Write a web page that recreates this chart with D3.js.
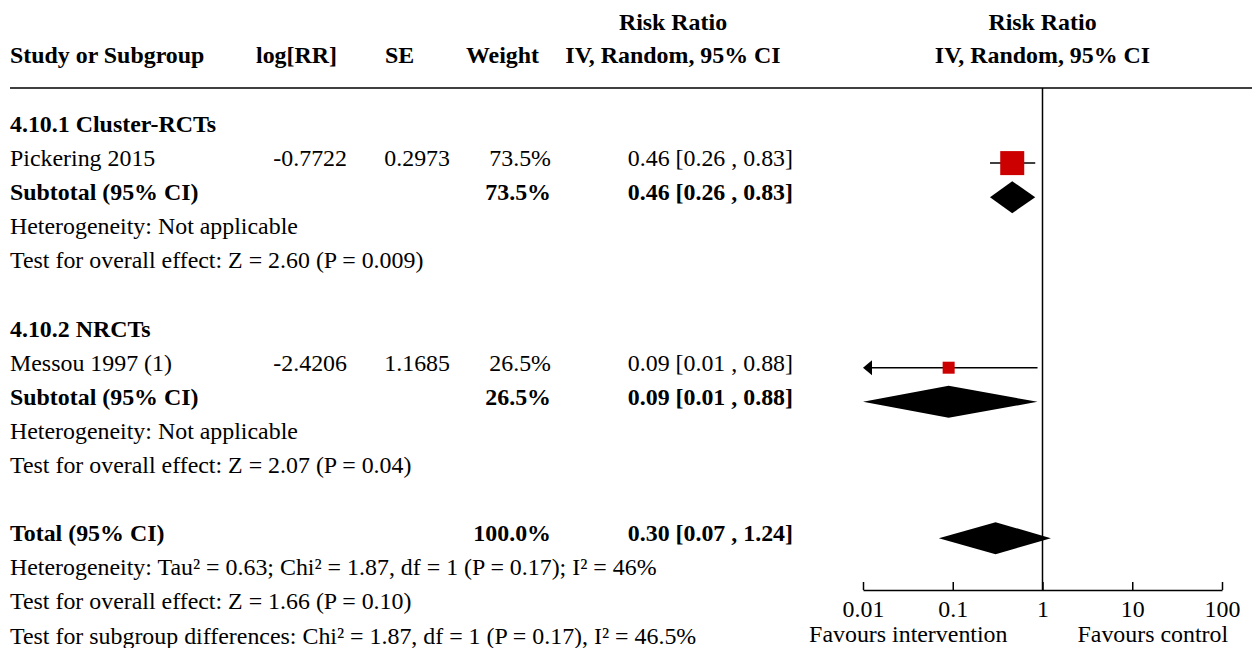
<!DOCTYPE html>
<html>
<head>
<meta charset="utf-8">
<script src="https://cdn.jsdelivr.net/npm/d3@7"></script>
<style>
  body { margin: 0; background: #fff; }
  text { font-family: "Liberation Serif", "DejaVu Serif", serif; font-size: 23.9px; fill: #000; }
  .b { font-weight: bold; }
</style>
</head>
<body>
<script>
var width = 1252, height = 648;

// study data
var studies = ["Pickering 2015", "Messou 1997 (1)"];
var logRR = ["-0.7722", "-2.4206"];
var se = ["0.2973", "1.1685"];
var weights = [73.5, 26.5];
var rr = [0.46, 0.09];
var rrLo = [0.26, 0.01];
var rrHi = [0.83, 0.88];

// subgroups
var groups = ["4.10.1 Cluster-RCTs", "4.10.2 NRCTs"];
var subRR = [0.46, 0.09];
var subLo = [0.26, 0.01];
var subHi = [0.83, 0.88];
var subHet = ["Heterogeneity: Not applicable", "Heterogeneity: Not applicable"];
var subTest = ["Test for overall effect: Z = 2.60 (P = 0.009)", "Test for overall effect: Z = 2.07 (P = 0.04)"];

// overall
var totalRR = 0.30, totalLo = 0.07, totalHi = 1.24;
var totalLines = [
  "Heterogeneity: Tau\u00b2 = 0.63; Chi\u00b2 = 1.87, df = 1 (P = 0.17); I\u00b2 = 46%",
  "Test for overall effect: Z = 1.66 (P = 0.10)",
  "Test for subgroup differences: Chi\u00b2 = 1.87, df = 1 (P = 0.17), I\u00b2 = 46.5%"
];

var ticks = [0.01, 0.1, 1, 10, 100];
var tickLabels = ["0.01", "0.1", "1", "10", "100"];

var svg = d3.select("body").append("svg")
    .attr("width", width)
    .attr("height", height);

var x = d3.scaleLog().domain([0.01, 100]).range([863, 1222]);
var size = d3.scaleSqrt().domain([0, 100]).range([0, 28]);

var rowH = 34.1, row0 = 132;
function rowY(i) { return row0 + i * rowH; }
var red = "#cc0000";

function fmt(v) { return v.toFixed(2); }
function ciText(m, l, h) { return fmt(m) + " [" + fmt(l) + " , " + fmt(h) + "]"; }

function txt(s, xx, yy, anchor, bold) {
  svg.append("text")
    .attr("x", xx).attr("y", yy)
    .attr("text-anchor", anchor || "start")
    .attr("class", bold ? "b" : null)
    .text(s);
}

// headers
txt("Risk Ratio", 673, 30, "middle", true);
txt("Risk Ratio", x(1), 30, "middle", true);
txt("Study or Subgroup", 10, 63, "start", true);
txt("log[RR]", 256, 63, "start", true);
txt("SE", 385, 63, "start", true);
txt("Weight", 466, 63, "start", true);
txt("IV, Random, 95% CI", 673, 63, "middle", true);
txt("IV, Random, 95% CI", x(1), 63, "middle", true);

svg.append("line")
  .attr("x1", 10).attr("x2", width)
  .attr("y1", 88).attr("y2", 88)
  .attr("stroke", "#000").attr("stroke-width", 1.5);

function diamond(m, l, h, yy) {
  var hh = 16;
  svg.append("path")
    .attr("d", "M" + x(l) + "," + yy + "L" + x(m) + "," + (yy - hh) +
               "L" + x(h) + "," + yy + "L" + x(m) + "," + (yy + hh) + "Z")
    .attr("fill", "#000");
}

// study rows
var r = 0;
groups.forEach(function(g, i) {
  txt(g, 10, rowY(r), "start", true);
  r++;
  var yy = rowY(r);
  var my = yy - 3;
  txt(studies[i], 10, yy);
  txt(logRR[i], 347, yy, "end");
  txt(se[i], 450, yy, "end");
  txt(weights[i].toFixed(1) + "%", 551, yy, "end");
  txt(ciText(rr[i], rrLo[i], rrHi[i]), 793, yy, "end");

  // CI line, clipped to axis range with arrow
  var lo = Math.max(rrLo[i], x.domain()[0]);
  var hi = Math.min(rrHi[i], x.domain()[1]);
  var arrowL = rrLo[i] <= x.domain()[0];
  svg.append("line")
    .attr("x1", x(lo) + (arrowL ? 6 : 0)).attr("x2", x(hi))
    .attr("y1", my).attr("y2", my)
    .attr("stroke", "#000").attr("stroke-width", 1.5);
  if (arrowL) {
    svg.append("path")
      .attr("d", "M" + x(lo) + "," + my + "L" + (x(lo) + 9) + "," + (my - 7.5) +
                 "L" + (x(lo) + 9) + "," + (my + 7.5) + "Z")
      .attr("fill", "#000");
  }
  var s = i === 0 ? size(weights[i]) : 12;
  svg.append("rect")
    .attr("x", x(rr[i]) - s / 2).attr("y", my - s / 2)
    .attr("width", s).attr("height", s)
    .attr("fill", red);
  r++;

  yy = rowY(r);
  txt("Subtotal (95% CI)", 10, yy, "start", true);
  txt(weights[i].toFixed(1) + "%", 551, yy, "end", true);
  txt(ciText(subRR[i], subLo[i], subHi[i]), 793, yy, "end", true);
  diamond(subRR[i], Math.max(subLo[i], 0.01), subHi[i], yy - 3);
  r++;
  txt(subHet[i], 10, rowY(r)); r++;
  txt(subTest[i], 10, rowY(r)); r++;
  r++;
});

// total
var ty = rowY(r);
txt("Total (95% CI)", 10, ty, "start", true);
txt(d3.sum(weights).toFixed(1) + "%", 551, ty, "end", true);
txt(ciText(totalRR, totalLo, totalHi), 793, ty, "end", true);
diamond(totalRR, totalLo, totalHi, ty - 3);
r++;
totalLines.forEach(function(s) { txt(s, 10, rowY(r)); r++; });

// null line
var axisY = 590;
svg.append("line")
  .attr("x1", x(1)).attr("x2", x(1))
  .attr("y1", 88).attr("y2", axisY)
  .attr("stroke", "#000").attr("stroke-width", 1.5);

// axis
var axis = d3.axisBottom(x)
  .tickValues(ticks)
  .tickFormat(function(d, i) { return tickLabels[i]; })
  .tickSizeInner(-8)
  .tickSizeOuter(0)
  .tickPadding(10);

var ag = svg.append("g")
  .attr("transform", "translate(0," + axisY + ")")
  .call(axis);
ag.select(".domain").attr("stroke", "#000").attr("stroke-width", 1.5);
ag.selectAll(".tick line").attr("stroke", "#000").attr("stroke-width", 1.5);
ag.selectAll(".tick text")
  .attr("font-family", null).attr("font-size", null)
  .style("font-family", "'Liberation Serif', serif").style("font-size", "23.9px");

txt("Favours intervention", x(1) - 35, 642, "end");
txt("Favours control", x(1) + 35, 642, "start");
</script>
</body>
</html>
